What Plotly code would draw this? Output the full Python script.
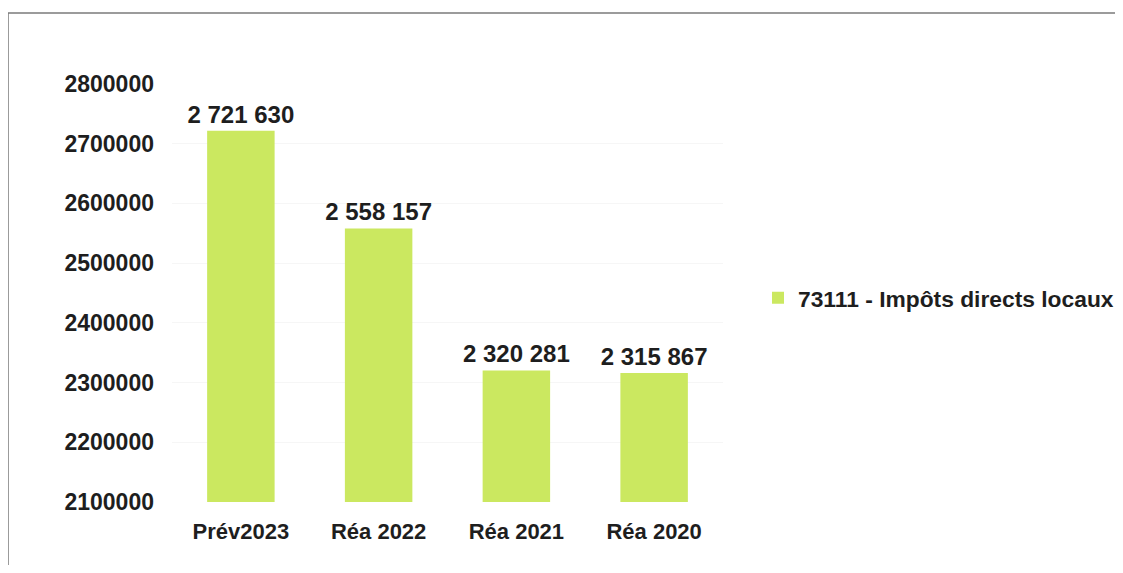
import plotly.graph_objects as go

categories = ["Prév2023", "Réa 2022", "Réa 2021", "Réa 2020"]
values = [2721630, 2558157, 2320281, 2315867]
series_name = "73111 - Impôts directs locaux"
tick_values = [2100000, 2200000, 2300000, 2400000, 2500000, 2600000, 2700000, 2800000]
tick_labels = [str(v) for v in tick_values]
value_labels = [f"{v:,}".replace(",", " ") for v in values]

# page body has an 8px default margin: figure origin sits at (8, 8) of the window
OFF = 8
W, H = 1123 - OFF, 573 - 2 * OFF
L, R, T, B = 172 - OFF, 723 - OFF, 84 - OFF, 502 - OFF

def px(x):
    return (x - OFF - L) / (R - L)

def py(y):
    return (B - (y - OFF)) / (B - T)

font_family = "Liberation Sans, Arial, sans-serif"

fig = go.Figure()
fig.add_trace(go.Bar(
    x=categories,
    y=values,
    name=series_name,
    marker=dict(color="#cbe860", line=dict(width=0)),
    text=value_labels,
    textposition="outside",
    constraintext="none",
    textfont=dict(family=font_family, size=24, color="#1e1e1e", weight="bold"),
    cliponaxis=False,
    showlegend=True,
))

fig.update_layout(
    width=W, height=H,
    margin=dict(l=L, r=W - R, t=T, b=H - B, pad=0, autoexpand=False),
    paper_bgcolor="white",
    plot_bgcolor="white",
    bargap=0.51,
    font=dict(family=font_family, color="#1e1e1e"),
    showlegend=True,
    legend=dict(
        x=px(758), y=py(298), xanchor="left", yanchor="middle",
        font=dict(family=font_family, size=22.8, color="#1e1e1e", weight="bold"),
        bgcolor="rgba(0,0,0,0)",
    ),
    xaxis=dict(
        showline=False, showgrid=False, zeroline=False, ticks="",
        ticklabelstandoff=14,
        tickfont=dict(family=font_family, size=22, color="#1e1e1e", weight="bold"),
    ),
    yaxis=dict(
        range=[2100000, 2800000],
        tickvals=tick_values, ticktext=tick_labels,
        showline=False, showgrid=True, gridcolor="#f6f6f6", zeroline=False,
        ticks="", ticklabelstandoff=17,
        tickfont=dict(family=font_family, size=23, color="#1e1e1e", weight="bold"),
    ),
    shapes=[
        dict(type="line", xref="paper", yref="paper",
             x0=px(8), x1=px(1123), y0=py(13), y1=py(13),
             line=dict(color="#7a7a7a", width=1.5)),
        dict(type="line", xref="paper", yref="paper",
             x0=px(8), x1=px(8), y0=py(13), y1=py(573),
             line=dict(color="#7a7a7a", width=1.5)),
    ],
)

fig.write_html("out.html")
